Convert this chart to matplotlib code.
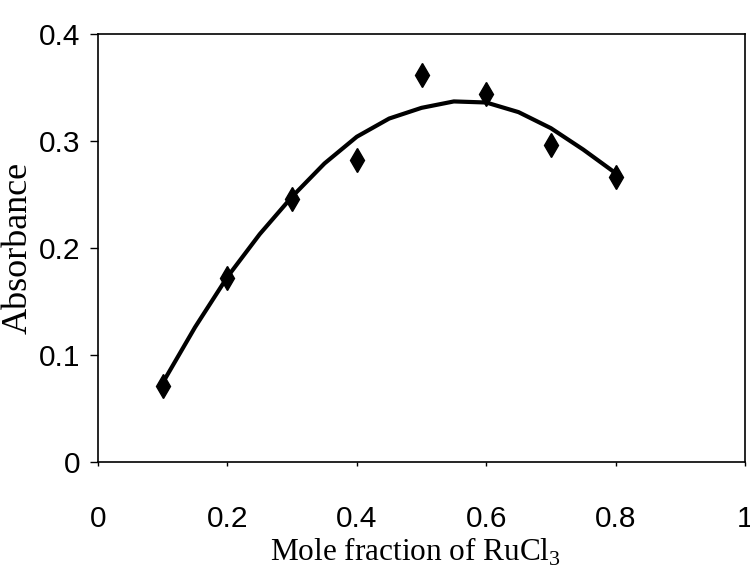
import numpy as np
import matplotlib
matplotlib.use('Agg')
import matplotlib.pyplot as plt

################################################################################
########    DATA
################################################################################

mole_frac = [0.1, 0.2, 0.3, 0.4, 0.5, 0.6, 0.7, 0.8]
absorb = [0.071, 0.172, 0.246, 0.282, 0.362, 0.344, 0.296, 0.266]

# trendline as drawn in the reference
trend_x = [0.1, 0.15, 0.2, 0.25, 0.3, 0.35, 0.4, 0.45, 0.5, 0.55, 0.6,
           0.65, 0.7, 0.75, 0.8]
trend_y = [0.074, 0.126, 0.173, 0.213, 0.248, 0.279, 0.304, 0.321, 0.331,
           0.337, 0.336, 0.327, 0.312, 0.292, 0.270]

x_ticks = [0, 0.2, 0.4, 0.6, 0.8, 1]
x_labels = ['0', '0.2', '0.4', '0.6', '0.8', '1']
y_ticks = [0, 0.1, 0.2, 0.3, 0.4]
y_labels = ['0', '0.1', '0.2', '0.3', '0.4']

################################################################################
########    PLOT
################################################################################

plt.rcParams['mathtext.fontset'] = 'custom'
plt.rcParams['mathtext.rm'] = 'Liberation Serif'

tick_font = dict(family=['Liberation Sans', 'DejaVu Sans'], size=21.5)
serif = ['Liberation Serif', 'DejaVu Serif']

fig = plt.figure(figsize=(7.5, 5.68), dpi=100)
ax = fig.add_axes([0.1307, 0.1866, 0.8626, 0.7535])

ax.plot(trend_x, trend_y, color='black', linewidth=3.0, solid_joinstyle='round',
        solid_capstyle='round')
ax.plot(mole_frac, absorb, linestyle='none', marker='d', markersize=12.5,
        color='black')

ax.set_xlim(0, 1)
ax.set_ylim(0, 0.4)

ax.set_xticks(x_ticks)
ax.set_xticklabels(x_labels, **tick_font)
ax.set_yticks(y_ticks)
ax.set_yticklabels(y_labels, **tick_font)

ax.tick_params(axis='x', direction='out', length=3, width=1, pad=28)
ax.tick_params(axis='y', direction='out', length=6, width=1, pad=7)

for sp in ax.spines.values():
    sp.set_linewidth(1.2)
    sp.set_color('black')

ax.set_xlabel('Mole fraction of RuCl$_3$', family=serif, size=22.5)
ax.xaxis.set_label_coords(0.49, -0.172)
ax.set_ylabel('Absorbance', family=serif, size=26)
ax.yaxis.set_label_coords(-0.098, 0.5)

plt.savefig('out.png', dpi=100)
